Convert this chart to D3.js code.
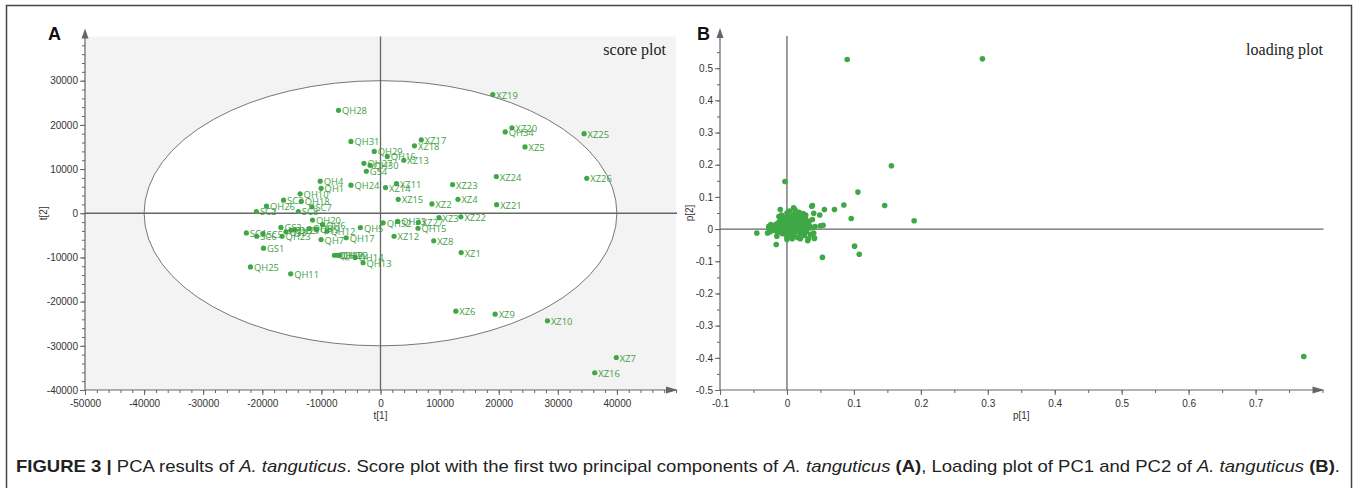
<!DOCTYPE html>
<html><head><meta charset="utf-8">
<script src="https://cdn.jsdelivr.net/npm/d3@7"></script>
<style>body{margin:0;background:#fff}svg{display:block}</style>
</head><body>
<svg id="c" width="1358" height="488"></svg>
<script>
// ---------- DATA ----------
const scoreNames = ["QH28","XZ19","XZ20","QH34","XZ25","XZ5","QH31","XZ17","XZ18","QH29","QH16","XZ13","QH27","QH30","GS4","XZ24","XZ26","QH4","QH1","QH24","XZ11","XZ14","XZ23","QH10","SC3","QH18","QH26","SC7","SC2","SC8","XZ15","XZ2","XZ4","XZ21","XZ3","XZ22","QH20","QH6","QH32","QH33","XZ27","QH15","QH5","GS2","GS3","QH2","QH3","QH8","QH9","QH12","QH17","QH7","QH23","SC4","SC5","SC6","GS1","XZ12","XZ8","XZ1","QH19","QH21","QH22","QH14","QH13","QH25","QH11","XZ6","XZ9","XZ10","XZ7","XZ16"];
const scoreT1 = [-7100,19000,22250,21100,34450,24450,-5000,6900,5750,-1050,1150,3950,-2800,-1750,-2400,19600,34900,-10200,-10050,-5000,2700,850,12200,-13600,-16400,-13400,-19300,-11600,-21000,-13900,3000,8700,13100,19650,9900,13600,-11500,-9800,450,2900,6400,6350,-3400,-16850,-16000,-15150,-14500,-12050,-10850,-9050,-5800,-10050,-16650,-22700,-19900,-20950,-19800,2300,9000,13650,-7800,-7300,-6900,-4300,-2950,-22000,-15200,12750,19400,28250,39900,36250];
const scoreT2 = [23300,26850,19350,18400,18000,15000,16250,16600,15250,14000,12850,12000,11300,10850,9500,8300,7900,7250,5650,6350,6700,5800,6500,4400,2950,2700,1600,1450,400,400,3150,2100,3150,1950,-1000,-800,-1550,-2550,-2150,-1850,-2050,-3400,-3250,-3200,-4200,-3850,-3700,-3450,-3600,-4050,-5550,-5950,-5200,-4450,-4600,-5200,-7900,-5200,-6250,-8900,-9500,-9500,-9500,-10000,-11200,-12150,-13700,-22150,-22850,-24350,-32650,-36100];

const loadP1 = [0.090,0.292,0.156,-0.003,0.106,0.146,0.190,0.085,0.071,0.056,0.038,0.096,-0.010,-0.012,-0.045,-0.016,0.053,0.101,0.108,0.772,0.049,0.040,0.054,0.050,-0.029,-0.027,0.041,0.031,0.010,0.037,
 -0.022,-0.019,-0.018,-0.016,-0.014,-0.013,-0.012,-0.010,-0.009,-0.008,-0.007,-0.006,-0.005,-0.004,-0.003,-0.002,-0.001,0.000,0.001,0.002,0.003,0.004,0.005,0.006,0.006,0.007,0.008,0.009,0.010,0.010,0.011,0.012,0.013,0.014,0.015,0.016,0.016,0.017,0.018,0.019,0.020,0.021,0.022,0.023,0.024,0.025,0.026,0.027,0.028,0.029,0.030,0.031,0.032,0.033,0.034,0.035,0.036,0.038,0.040,0.041,0.042,-0.025,-0.027,-0.024,0.000,0.004,-0.008,0.012,0.018,-0.015,0.008,0.020,0.000,0.028,0.024];
const loadP2 = [0.527,0.529,0.197,0.148,0.115,0.073,0.026,0.075,0.061,0.061,0.073,0.033,0.061,0.039,-0.012,-0.048,-0.088,-0.053,-0.078,-0.396,0.044,0.049,0.012,0.010,-0.012,0.009,-0.029,-0.036,0.066,0.071,
 0.004,0.010,-0.004,0.016,-0.010,0.006,0.022,-0.002,0.030,0.012,-0.014,0.004,0.020,-0.006,0.036,0.010,-0.020,0.026,0.002,0.016,-0.010,0.040,0.008,-0.024,0.030,0.020,-0.004,0.012,0.046,-0.016,0.034,0.004,0.024,-0.008,0.014,0.042,-0.026,0.030,0.002,0.020,-0.014,0.036,0.010,-0.004,0.026,0.016,-0.020,0.006,0.032,-0.008,0.018,0.002,-0.030,0.024,0.010,-0.016,0.004,0.030,-0.012,-0.028,0.008,-0.008,0.002,0.014,0.050,0.056,0.044,0.060,0.052,-0.022,-0.030,-0.030,-0.032,0.044,0.048];

const ticksAx = [-50000,-40000,-30000,-20000,-10000,0,10000,20000,30000,40000];
const ticksAy = [-40000,-30000,-20000,-10000,0,10000,20000,30000];
const ticksBx = [-0.1,0,0.1,0.2,0.3,0.4,0.5,0.6,0.7];
const ticksBy = [-0.5,-0.4,-0.3,-0.2,-0.1,0,0.1,0.2,0.3,0.4,0.5];

// ---------- DRAW ----------
const svg = d3.select("#c");
const GREEN = "#3fa846", LGREEN = "#3f9f45", AX = "#666";
const tickFont = "Liberation Sans, Arial, sans-serif";

svg.append("rect").attr("x",6.5).attr("y",5.5).attr("width",1345).attr("height",520)
  .attr("fill","none").attr("stroke","#444").attr("stroke-width",1.5);

function panel(o){
  const g = svg.append("g");
  const x = o.x, y = o.y;
  const [x0,x1] = x.range(), [yb,yt] = y.range();
  if (o.bg) g.append("rect").attr("x",x0).attr("y",yt).attr("width",x1-x0).attr("height",yb-yt).attr("fill",o.bg);
  if (o.ellipse) g.append("ellipse").attr("cx",x(0)).attr("cy",y(0))
     .attr("rx",x(o.ellipse[0])-x(0)).attr("ry",y(0)-y(o.ellipse[1]))
     .attr("fill","#fff").attr("stroke","#777").attr("stroke-width",1);
  g.append("line").attr("x1",x0).attr("x2",x1+1).attr("y1",y(0)).attr("y2",y(0)).attr("stroke",AX).attr("stroke-width",1.3);
  g.append("line").attr("x1",x(0)).attr("x2",x(0)).attr("y1",yt).attr("y2",yb).attr("stroke",AX).attr("stroke-width",1.3);
  const ya = g.append("g").attr("transform",`translate(${x0},0)`)
    .call(d3.axisLeft(y).tickValues(o.minorY).tickSize(3).tickFormat(""));
  const xa = g.append("g").attr("transform",`translate(0,${yb})`)
    .call(d3.axisBottom(x).tickValues(o.minorX).tickSize(3).tickFormat(""));
  const yM = g.append("g").attr("transform",`translate(${x0},0)`)
    .call(d3.axisLeft(y).tickValues(o.ty).tickSize(5).tickPadding(2).tickFormat(o.fmt));
  const xM = g.append("g").attr("transform",`translate(0,${yb})`)
    .call(d3.axisBottom(x).tickValues(o.tx).tickSize(5).tickPadding(5).tickFormat(o.fmt));
  [ya,xa,yM,xM].forEach(a=>{ a.select(".domain").remove(); a.selectAll("line").attr("stroke",AX);
    a.selectAll("text").attr("fill","#333").style("font-family",tickFont).style("font-size","10px"); });
  g.append("line").attr("x1",x0).attr("x2",x0).attr("y1",yb).attr("y2",yt-4).attr("stroke",AX).attr("stroke-width",1.2);
  g.append("line").attr("x1",x0).attr("x2",x1).attr("y1",yb).attr("y2",yb).attr("stroke",AX).attr("stroke-width",1.2);
  g.append("path").attr("d",`M${x0},${yt-8}L${x0-3.5},${yt+2}L${x0+3.5},${yt+2}Z`).attr("fill",AX);
  g.append("path").attr("d",`M${x1+2},${yb}L${x1-10},${yb-3.5}L${x1-10},${yb+3.5}Z`).attr("fill",AX);
  g.append("text").attr("x",(x0+x1)/2).attr("y",yb+29).attr("text-anchor","middle")
    .style("font-family",tickFont).style("font-size","10px").attr("fill","#333").text(o.xt);
  g.append("text").attr("transform",`translate(${o.ytx},${(yb+yt)/2}) rotate(-90)`).attr("text-anchor","middle")
    .style("font-family",tickFont).style("font-size","10px").attr("fill","#333").text(o.yt);
  g.append("text").attr("x",o.lx).attr("y",40).style("font-family",tickFont).style("font-size","18px")
    .style("font-weight","bold").attr("fill","#111").text(o.letter);
  g.append("text").attr("x",o.titleX).attr("y",55).attr("text-anchor","end")
    .style("font-family","Liberation Serif, Times New Roman, serif").style("font-size","16px").attr("fill","#222").text(o.title);
  return g;
}

// Panel A
const xA = d3.scaleLinear().domain([-50000,50000]).range([85,676]);
const yA = d3.scaleLinear().domain([-40000,40000]).range([390,36.5]);
const gA = panel({x:xA,y:yA,bg:"#f3f3f3",ellipse:[40000,30000],
  minorX:d3.range(-50000,50001,2000), minorY:d3.range(-40000,40001,2000),
  tx:ticksAx, ty:ticksAy, fmt:d=>String(d), xt:"t[1]", yt:"t[2]", ytx:47,
  letter:"A", lx:48, title:"score plot", titleX:666});
const ptsA = scoreNames.map((n,i)=>({n, x:scoreT1[i], y:scoreT2[i]}));
gA.append("g").selectAll("circle").data(ptsA).join("circle")
  .attr("cx",d=>xA(d.x)).attr("cy",d=>yA(d.y)).attr("r",2.6).attr("fill",GREEN);
gA.append("g").selectAll("text").data(ptsA).join("text")
  .attr("x",d=>xA(d.x)+3.5).attr("y",d=>yA(d.y)+4)
  .style("font-family","Open Sans, sans-serif").style("font-size","9.4px").attr("fill",LGREEN).text(d=>d.n);

// Panel B
const xB = d3.scaleLinear().domain([-0.1,0.8]).range([720,1322.5]);
const yB = d3.scaleLinear().domain([-0.5,0.6]).range([390,36]);
const gB = panel({x:xB,y:yB,bg:null,ellipse:null,
  minorX:d3.range(-0.1,0.801,0.05).map(v=>+v.toFixed(2)), minorY:d3.range(-0.5,0.601,0.05).map(v=>+v.toFixed(2)),
  tx:ticksBx, ty:ticksBy, fmt:d=>String(d), xt:"p[1]", yt:"p[2]", ytx:693,
  letter:"B", lx:697, title:"loading plot", titleX:1323});
const ptsB = loadP1.map((v,i)=>({x:v,y:loadP2[i]}));
gB.append("g").selectAll("circle").data(ptsB).join("circle")
  .attr("cx",d=>xB(d.x)).attr("cy",d=>yB(d.y)).attr("r",2.8).attr("fill",GREEN);

// Caption
const cap = svg.append("text").attr("x",16).attr("y",472).attr("textLength",1324).attr("lengthAdjust","spacingAndGlyphs")
  .style("font-family",tickFont).style("font-size","17px").attr("fill","#222");
[["FIGURE 3 | ","bold",""],["PCA results of ","",""],["A. tanguticus","","italic"],[". Score plot with the first two principal components of ","",""],
 ["A. tanguticus","","italic"],[" ","",""],["(A)","bold",""],[", Loading plot of PC1 and PC2 of ","",""],["A. tanguticus","","italic"],[" ","",""],["(B)","bold",""],[".","",""]]
 .forEach(([t,w,s])=>{ const ts=cap.append("tspan").text(t); if(w) ts.style("font-weight",w); if(s) ts.style("font-style",s); });
</script>
</body></html>
